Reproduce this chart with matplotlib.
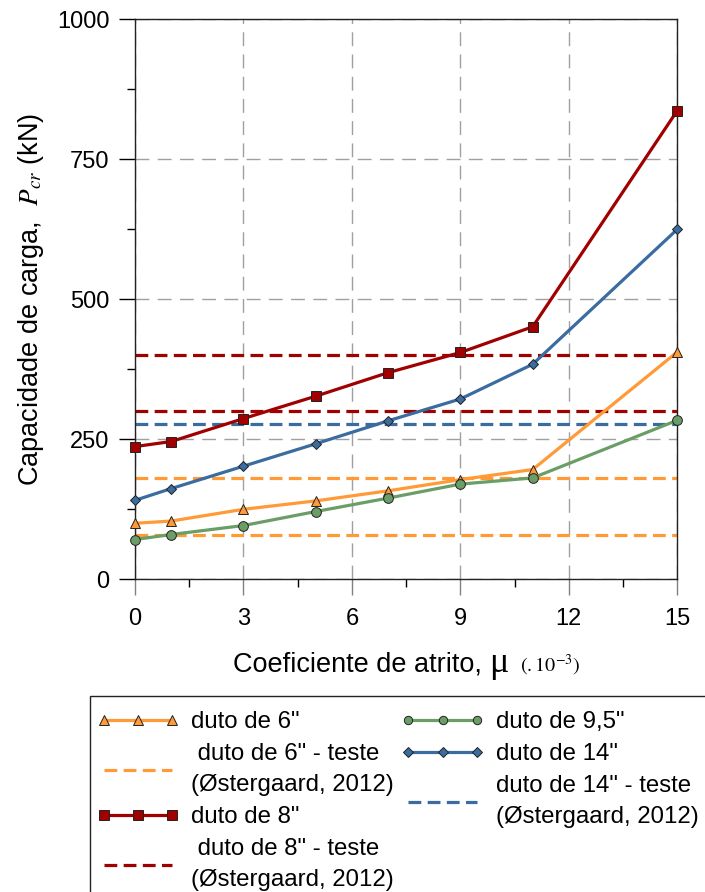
import matplotlib
matplotlib.use("Agg")
import matplotlib.pyplot as plt
from matplotlib.lines import Line2D
from matplotlib.patches import Rectangle
from matplotlib.offsetbox import TextArea, HPacker, AnchoredOffsetbox
from matplotlib.ticker import MultipleLocator

plt.rcParams["font.family"] = ["Liberation Sans", "DejaVu Sans"]
plt.rcParams["mathtext.fontset"] = "stix"

# Friction coefficient (x 10^-3)
mu = [0, 1, 3, 5, 7, 9, 11, 15]

# Buckling load, P_cr (kN)
duto_6 = [100, 104, 125, 140, 158, 178, 196, 406]
duto_8 = [237, 246, 287, 327, 369, 405, 451, 837]
duto_9_5 = [71, 80, 96, 121, 145, 170, 181, 284]
duto_14 = [141, 162, 202, 242, 283, 322, 384, 625]

# Test results (Østergaard, 2012)
teste_6 = [80, 180]
teste_8 = [300, 400]
teste_14 = [277]

c_orange = "#FF9A36"
c_red = "#A00000"
c_green = "#6A9E66"
c_blue = "#3A6CA0"

W, H = 705, 892
fig = plt.figure(figsize=(W / 100, H / 100), dpi=100)
ax = fig.add_axes([135 / W, 1 - 579.3 / H, 542.3 / W, 560 / H])

dash = (4, 2)
lw = 2.3
for v in teste_6:
    ax.plot([mu[0], mu[-1]], [v, v], color=c_orange, lw=lw, dashes=dash, zorder=2)
for v in teste_8:
    ax.plot([mu[0], mu[-1]], [v, v], color=c_red, lw=lw, dashes=dash, zorder=2)
for v in teste_14:
    ax.plot([mu[0], mu[-1]], [v, v], color=c_blue, lw=lw, dashes=dash, zorder=2)

mk = dict(markeredgecolor="#222222", markeredgewidth=0.7, clip_on=False, zorder=4)
ax.plot(mu, duto_6, color=c_orange, lw=lw, marker="^", ms=7.5, markerfacecolor=c_orange, **mk)
ax.plot(mu, duto_9_5, color=c_green, lw=lw, marker="o", ms=7, markerfacecolor=c_green, **mk)
ax.plot(mu, duto_14, color=c_blue, lw=lw, marker="D", ms=5.5, markerfacecolor=c_blue, **mk)
ax.plot(mu, duto_8, color=c_red, lw=lw, marker="s", ms=7, markerfacecolor=c_red, **mk)

ax.set_xlim(0, 15)
ax.set_ylim(0, 1000)
ax.xaxis.set_major_locator(MultipleLocator(3))
ax.xaxis.set_minor_locator(MultipleLocator(1.5))
ax.yaxis.set_major_locator(MultipleLocator(250))
ax.yaxis.set_minor_locator(MultipleLocator(125))

ax.grid(True, which="major", color="#A0A0A0", lw=1.0, dashes=(10, 6), zorder=1)
for s in ax.spines.values():
    s.set_color("#222222")
    s.set_linewidth(1.0)

ax.tick_params(axis="both", which="major", direction="out", length=11.5, width=1.0,
               labelsize=17, pad=7)
ax.tick_params(axis="x", which="major", pad=9, color="#808080")
ax.tick_params(axis="both", which="minor", direction="out", length=6, width=1.0)

ax.set_ylabel("Capacidade de carga,  $P_{cr}$ (kN)", fontsize=19.5, labelpad=8)

# x label mixes a sans caption, a serif mu and a small serif unit factor
xl = HPacker(children=[
    TextArea("Coeficiente de atrito, ", textprops=dict(fontsize=19.5, family="Liberation Sans")),
    TextArea("\u03bc", textprops=dict(fontsize=26, family="Liberation Serif")),
    TextArea("  $(.10^{-3})$", textprops=dict(fontsize=14.5)),
], align="baseline", pad=0, sep=0)
fig.add_artist(AnchoredOffsetbox(loc="center", child=xl, frameon=False,
                                 bbox_to_anchor=(406.5 / W, 1 - 663 / H),
                                 bbox_transform=fig.transFigure, borderpad=0, pad=0))

mke = dict(markeredgecolor="#222222", markeredgewidth=0.7)
handles = [
    Line2D([], [], color=c_orange, lw=lw, marker="^", ms=7, markerfacecolor=c_orange, **mke),
    Line2D([], [], color=c_orange, lw=lw, dashes=dash),
    Line2D([], [], color=c_red, lw=lw, marker="s", ms=6.5, markerfacecolor=c_red, **mke),
    Line2D([], [], color=c_red, lw=lw, dashes=dash),
    Line2D([], [], color=c_green, lw=lw, marker="o", ms=6, markerfacecolor=c_green, **mke),
    Line2D([], [], color=c_blue, lw=lw, marker="D", ms=5, markerfacecolor=c_blue, **mke),
    Line2D([], [], color=c_blue, lw=lw, dashes=dash),
]
labels = [
    'duto de 6"',
    ' duto de 6" - teste\n(Østergaard, 2012)',
    'duto de 8"',
    ' duto de 8" - teste\n(Østergaard, 2012)',
    'duto de 9,5"',
    'duto de 14"',
    'duto de 14" - teste\n(Østergaard, 2012)',
]
leg = fig.legend(handles, labels, ncol=2, loc="upper left",
                 bbox_to_anchor=(96.7 / W, 1 - 711 / H),
                 fontsize=17.3, numpoints=3, handlelength=3.45, handletextpad=0.49,
                 columnspacing=0.29, labelspacing=0.42, borderpad=0,
                 borderaxespad=0, frameon=False)
for t in leg.get_texts():
    t.set_linespacing(1.52)

# Legend frame: open to the right and bottom edges of the figure
fig.add_artist(Rectangle((90 / W, -0.2), 2.0, 0.2 + 1 - 696 / H,
                         transform=fig.transFigure, fill=False,
                         edgecolor="#222222", linewidth=1.0))

fig.savefig("out.png", dpi=100)
